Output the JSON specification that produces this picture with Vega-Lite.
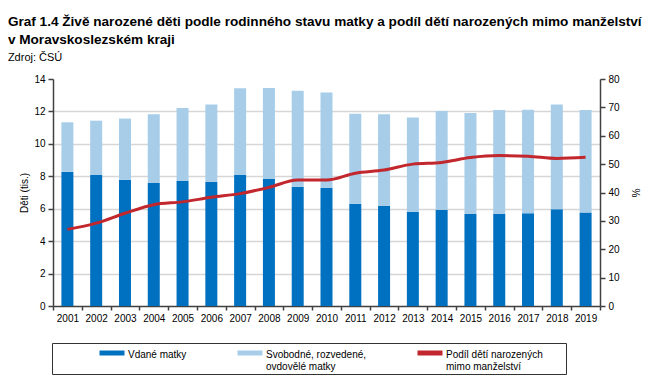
{
  "$schema": "https://vega.github.io/schema/vega-lite/v6.json",
  "width": 547,
  "height": 227,
  "autosize": {"type": "none"},
  "padding": {"left": 53, "top": 79, "right": 63, "bottom": 83},
  "background": "white",
  "title": {
    "text": ["Graf 1.4 Živě narozené děti podle rodinného stavu matky a podíl dětí narozených mimo manželství", "v Moravskoslezském kraji"],
    "subtitle": "Zdroj: ČSÚ",
    "anchor": "start",
    "frame": "bounds",
    "dx": -12,
    "font": "Liberation Sans",
    "fontSize": 13.6,
    "fontWeight": "bold",
    "lineHeight": 18,
    "color": "#000000",
    "subtitleFont": "Liberation Sans",
    "subtitleFontSize": 11,
    "subtitleColor": "#000000",
    "subtitlePadding": 5,
    "offset": 11
  },
  "datasets": {
    "bars": [
      {"year": "2001", "series": "Vdané matky", "value": 8.27},
      {"year": "2002", "series": "Vdané matky", "value": 8.08},
      {"year": "2003", "series": "Vdané matky", "value": 7.79},
      {"year": "2004", "series": "Vdané matky", "value": 7.59},
      {"year": "2005", "series": "Vdané matky", "value": 7.71},
      {"year": "2006", "series": "Vdané matky", "value": 7.65},
      {"year": "2007", "series": "Vdané matky", "value": 8.08},
      {"year": "2008", "series": "Vdané matky", "value": 7.83},
      {"year": "2009", "series": "Vdané matky", "value": 7.36},
      {"year": "2010", "series": "Vdané matky", "value": 7.30},
      {"year": "2011", "series": "Vdané matky", "value": 6.31},
      {"year": "2012", "series": "Vdané matky", "value": 6.17},
      {"year": "2013", "series": "Vdané matky", "value": 5.82},
      {"year": "2014", "series": "Vdané matky", "value": 5.94},
      {"year": "2015", "series": "Vdané matky", "value": 5.68},
      {"year": "2016", "series": "Vdané matky", "value": 5.68},
      {"year": "2017", "series": "Vdané matky", "value": 5.72},
      {"year": "2018", "series": "Vdané matky", "value": 5.96},
      {"year": "2019", "series": "Vdané matky", "value": 5.76},
      {"year": "2001", "series": "Svobodné, rozvedené, ovdovělé matky", "value": 3.06},
      {"year": "2002", "series": "Svobodné, rozvedené, ovdovělé matky", "value": 3.35},
      {"year": "2003", "series": "Svobodné, rozvedené, ovdovělé matky", "value": 3.77},
      {"year": "2004", "series": "Svobodné, rozvedené, ovdovělé matky", "value": 4.24},
      {"year": "2005", "series": "Svobodné, rozvedené, ovdovělé matky", "value": 4.50},
      {"year": "2006", "series": "Svobodné, rozvedené, ovdovělé matky", "value": 4.77},
      {"year": "2007", "series": "Svobodné, rozvedené, ovdovělé matky", "value": 5.35},
      {"year": "2008", "series": "Svobodné, rozvedené, ovdovělé matky", "value": 5.62},
      {"year": "2009", "series": "Svobodné, rozvedené, ovdovělé matky", "value": 5.92},
      {"year": "2010", "series": "Svobodné, rozvedené, ovdovělé matky", "value": 5.86},
      {"year": "2011", "series": "Svobodné, rozvedené, ovdovělé matky", "value": 5.55},
      {"year": "2012", "series": "Svobodné, rozvedené, ovdovělé matky", "value": 5.66},
      {"year": "2013", "series": "Svobodné, rozvedené, ovdovělé matky", "value": 5.80},
      {"year": "2014", "series": "Svobodné, rozvedené, ovdovělé matky", "value": 6.09},
      {"year": "2015", "series": "Svobodné, rozvedené, ovdovělé matky", "value": 6.23},
      {"year": "2016", "series": "Svobodné, rozvedené, ovdovělé matky", "value": 6.41},
      {"year": "2017", "series": "Svobodné, rozvedené, ovdovělé matky", "value": 6.39},
      {"year": "2018", "series": "Svobodné, rozvedené, ovdovělé matky", "value": 6.46},
      {"year": "2019", "series": "Svobodné, rozvedené, ovdovělé matky", "value": 6.33}
    ],
    "share": [
      {"year": "2001", "pct": 27.0},
      {"year": "2002", "pct": 29.2},
      {"year": "2003", "pct": 32.7},
      {"year": "2004", "pct": 35.7},
      {"year": "2005", "pct": 36.7},
      {"year": "2006", "pct": 38.3},
      {"year": "2007", "pct": 39.6},
      {"year": "2008", "pct": 41.8},
      {"year": "2009", "pct": 44.4},
      {"year": "2010", "pct": 44.4},
      {"year": "2011", "pct": 46.8},
      {"year": "2012", "pct": 47.9},
      {"year": "2013", "pct": 50.0},
      {"year": "2014", "pct": 50.6},
      {"year": "2015", "pct": 52.3},
      {"year": "2016", "pct": 53.0},
      {"year": "2017", "pct": 52.8},
      {"year": "2018", "pct": 52.0},
      {"year": "2019", "pct": 52.4}
    ]
  },
  "layer": [
    {
      "data": {"name": "bars"},
      "mark": {"type": "bar", "width": 12},
      "encoding": {
        "x": {
          "field": "year",
          "type": "ordinal",
          "scale": {"paddingInner": 0, "paddingOuter": 0},
          "axis": {
            "title": null,
            "labelAngle": 0,
            "tickBand": "extent",
            "labelFontSize": 10,
            "labelPadding": 3,
            "tickSize": 4
          }
        },
        "y": {
          "field": "value",
          "type": "quantitative",
          "stack": "zero",
          "scale": {"domain": [0, 14], "nice": false},
          "axis": {
            "title": "Děti (tis.)",
            "values": [0, 2, 4, 6, 8, 10, 12, 14],
            "grid": true,
            "gridOpacity": {"condition": {"test": "datum.value == 14 || datum.value == 0", "value": 0}, "value": 1},
            "tickSize": 5,
            "labelPadding": 3,
            "titlePadding": 4
          }
        },
        "color": {
          "field": "series",
          "type": "nominal",
          "scale": {
            "domain": ["Vdané matky", "Svobodné, rozvedené, ovdovělé matky", "Podíl dětí narozených mimo manželství"],
            "range": ["#0070C0", "#A7CDE9", "#C1272D"]
          },
          "legend": {
            "title": " ",
            "titleOrient": "right",
            "titlePadding": 21,
            "orient": "none",
            "legendX": -1,
            "legendY": 264,
            "direction": "horizontal",
            "padding": 2,
            "strokeColor": "#333333",
            "symbolType": "M-4,0.16H4V1.76H-4Z",
            "symbolSize": 39.0625,
            "symbolStrokeWidth": 0,
            "symbolOffset": 53,
            "columnPadding": 5,
            "labelOffset": 11,
            "labelFontSize": 10,
            "labelBaseline": "top",
            "labelLimit": 300,
            "labelExpr": "datum.label == 'Svobodné, rozvedené, ovdovělé matky' ? ['Svobodné, rozvedené,', 'ovdovělé matky'] : datum.label == 'Podíl dětí narozených mimo manželství' ? ['Podíl dětí narozených', 'mimo manželství'] : [datum.label, '']"
          }
        }
      }
    },
    {
      "data": {"name": "share"},
      "mark": {"type": "line", "color": "#C1272D", "strokeWidth": 3, "interpolate": "monotone"},
      "encoding": {
        "x": {"field": "year", "type": "ordinal"},
        "y": {
          "field": "pct",
          "type": "quantitative",
          "scale": {"domain": [0, 80], "nice": false},
          "axis": {
            "orient": "right",
            "title": "%",
            "values": [0, 10, 20, 30, 40, 50, 60, 70, 80],
            "grid": false,
            "tickSize": 5,
            "labelPadding": 3,
            "titlePadding": 10
          }
        }
      }
    }
  ],
  "resolve": {"scale": {"y": "independent"}},
  "config": {
    "font": "Liberation Sans",
    "view": {"stroke": null},
    "axis": {
      "labelFont": "Liberation Sans",
      "labelFontSize": 10,
      "labelColor": "#000000",
      "titleFont": "Liberation Sans",
      "titleFontSize": 10,
      "titleFontWeight": "normal",
      "titleColor": "#000000",
      "domainColor": "#404040",
      "domainWidth": 1.5,
      "tickColor": "#404040",
      "tickWidth": 1.5,
      "tickSize": 4,
      "labelPadding": 3,
      "gridColor": "#D6D6D6",
      "gridWidth": 1.5
    },
    "legend": {
      "labelFont": "Liberation Sans",
      "labelColor": "#000000"
    }
  }
}
